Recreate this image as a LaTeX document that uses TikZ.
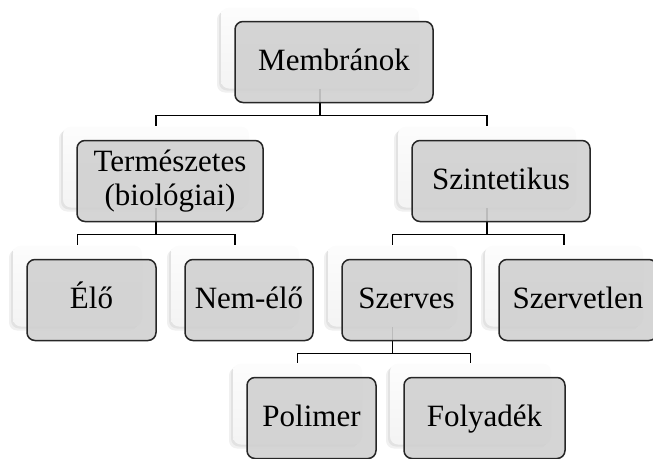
\documentclass[tikz,border=0pt]{standalone}
\usepackage{fontspec}
\setmainfont{Liberation Serif}
\usetikzlibrary{shadows,backgrounds}
\definecolor{boxgray}{RGB}{208,208,208}
\begin{document}
\begin{tikzpicture}
      [x=1pt,y=1pt,
       link/.style={line width=1.5pt},
       oneline/.style={text height=22pt,text depth=5pt}]
      \tikzstyle{box}=[rectangle,rounded corners=8pt,draw=black!85,line width=1.5pt,
        fill=boxgray,fill opacity=.9,text opacity=1,minimum height=81pt,
        font=\fontsize{31}{34}\selectfont,align=center,
        general shadow={fill=black,opacity=.06,shadow xshift=-18pt,shadow yshift=10pt},
        general shadow={fill=black,opacity=.06,shadow xshift=-16pt,shadow yshift=12pt},
        general shadow={top color=gray!2,bottom color=gray!9,opacity=1,
          shadow xshift=-14pt,shadow yshift=14pt}]
      \useasboundingbox (0,0) rectangle (653,-458);
      \node[box,oneline,minimum width=198pt] (memb) at (334,-62) {Membránok};
      \node[box,minimum width=186pt] (term) at (170,-181) {Természetes\\(biológiai)};
      \node[box,oneline,minimum width=178pt] (szint) at (501,-181) {Szintetikus};
      \node[box,oneline,minimum width=129pt] (elo) at (91.5,-300) {Élő};
      \node[box,oneline,minimum width=128pt] (nemelo) at (249,-300) {Nem-élő};
      \node[box,oneline,minimum width=129pt] (szerves) at (406.5,-300) {Szerves};
      \node[box,oneline,minimum width=158pt] (szervetlen) at (578,-300) {Szervetlen};
      \node[box,oneline,minimum width=129pt] (polimer) at (311.5,-418) {Polimer};
      \node[box,oneline,minimum width=161pt] (folyadek) at (484.5,-418) {Folyadék};
      \begin{scope}[on background layer]
        \foreach \p/\c in {memb/term,memb/szint,term/elo,term/nemelo,
                           szint/szerves,szint/szervetlen,szerves/polimer,szerves/folyadek}
          \draw[link] ([shift={(-14pt,14pt)}]\p.south) -- ++(0,-26)
            -| ([shift={(-14pt,14pt)}]\c.north);
      \end{scope}
\end{tikzpicture}
\end{document}
